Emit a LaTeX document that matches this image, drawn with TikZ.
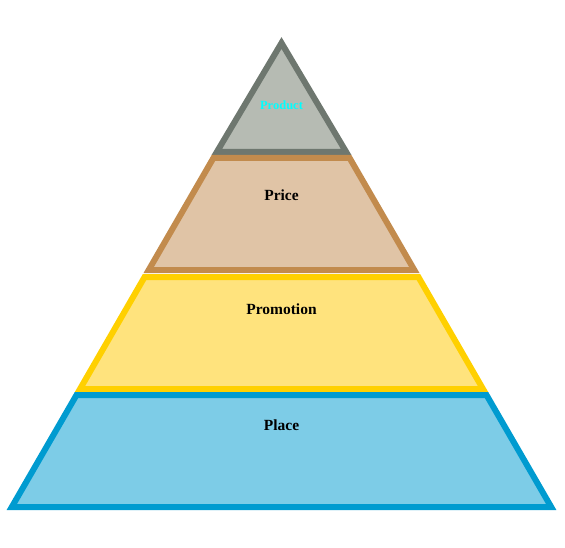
\documentclass[tikz,border=0pt]{standalone}
\usepackage{fontspec}
\setmainfont{Liberation Serif}
\usepackage{tikz}
\usetikzlibrary{positioning,calc}
\usepackage{xcolor}

\definecolor{prodfill}{HTML}{B6BBB3}
\definecolor{prodline}{HTML}{6E776F}
\definecolor{prodtext}{HTML}{00FFFF}
\definecolor{pricefill}{HTML}{E0C4A6}
\definecolor{priceline}{HTML}{C28B4D}
\definecolor{promofill}{HTML}{FFE37D}
\definecolor{promoline}{HTML}{FFD000}
\definecolor{placefill}{HTML}{7DCCE7}
\definecolor{placeline}{HTML}{009BD0}

\begin{document}
\begin{tikzpicture}[
  x=1pt, y=-1pt,
  layer/.style={line width=6pt, line join=miter},
  product/.style={layer, fill=prodfill, draw=prodline},
  price/.style={layer, fill=pricefill, draw=priceline},
  promo/.style={layer, fill=promofill, draw=promoline},
  place/.style={layer, fill=placefill, draw=placeline},
  label_big/.style={font=\fontsize{15.5}{18}\selectfont\bfseries, text=black},
  label_top/.style={font=\fontsize{12.5}{14}\selectfont\bfseries, text=prodtext}
]
\useasboundingbox (0,0) rectangle (565,548);

% Top tip
\filldraw[product]
  (281.5, 43) -- (346.2, 152) -- (216.8, 152) -- cycle;
\node[label_top] (product) at (281.5, 105) {Product};

% Second layer
\filldraw[price]
  (213.4, 158) -- (349.6, 158) -- (414.3, 270) -- (148.7, 270) -- cycle;
\node[label_big] (price) at (281.5, 195) {Price};

% Third layer
\filldraw[promo]
  (144.6, 277) -- (418.4, 277) -- (483.0, 389) -- (80.0, 389) -- cycle;
\node[label_big] (promotion) at (281.5, 309) {Promotion};

% Base
\filldraw[place]
  (76.5, 395) -- (486.5, 395) -- (551.2, 507) -- (11.8, 507) -- cycle;
\node[label_big] (place) at (281.5, 425) {Place};

\end{tikzpicture}
\end{document}
